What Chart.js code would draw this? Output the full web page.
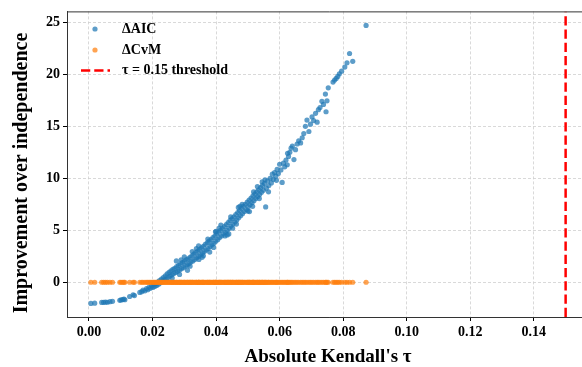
<!DOCTYPE html>
<html><head><meta charset="utf-8">
<script src="https://cdn.jsdelivr.net/npm/chart.js@4/dist/chart.umd.min.js"></script>
<style>html,body{margin:0;padding:0;background:#fff;overflow:hidden;width:582px;height:367px}canvas{display:block}#wrap{position:relative;width:582px;height:367px;overflow:hidden}</style>
</head><body>
<div id="wrap"><canvas id="c" width="600" height="367"></canvas></div>
<script>
// ---- data ----
const tau = [
0.0006,0.0018,0.0040,0.0046,0.0052,0.0058,0.0066,0.0074,0.0097,0.0101,
0.0106,0.0110,0.0113,0.0128,0.0139,0.0143,0.0160,0.0166,0.0170,0.0176,
0.0181,0.0185,0.0189,0.0193,0.0197,0.0201,0.0204,0.0207,0.0210,0.0213,
0.0216,0.0219,0.0222,0.0225,0.0228,0.0231,0.0234,0.0237,0.0240,0.0243,
0.0246,0.0249,0.0252,0.0255,0.0258,0.0261,0.0264,0.0267,0.0270,0.0273,
0.0276,0.0279,0.0282,0.0285,0.0288,0.0291,0.0294,0.0297,0.0300,0.0303,
0.0306,0.0309,0.0312,0.0315,0.0318,0.0321,0.0324,0.0327,0.0330,0.0333,
0.0336,0.0339,0.0342,0.0345,0.0348,0.0351,0.0354,0.0357,0.0360,0.0363,
0.0366,0.0369,0.0372,0.0375,0.0378,0.0381,0.0384,0.0387,0.0390,0.0393,
0.0396,0.0399,0.0402,0.0405,0.0408,0.0411,0.0414,0.0417,0.0420,0.0423,
0.0426,0.0429,0.0432,0.0435,0.0438,0.0441,0.0444,0.0447,0.0450,0.0453,
0.0456,0.0459,0.0462,0.0465,0.0468,0.0471,0.0474,0.0477,0.0480,0.0483,
0.0486,0.0489,0.0492,0.0495,0.0498,0.0501,0.0504,0.0507,0.0510,0.0513,
0.0516,0.0519,0.0522,0.0525,0.0528,0.0531,0.0534,0.0537,0.0540,0.0543,
0.0546,0.0549,0.0552,0.0556,0.0558,0.0562,0.0566,0.0570,0.0574,0.0577,
0.0580,0.0584,0.0588,0.0592,0.0596,0.0600,0.0604,0.0608,0.0612,0.0616,
0.0620,0.0624,0.0628,0.0632,0.0636,0.0640,0.0645,0.0650,0.0655,0.0660,
0.0666,0.0671,0.0676,0.0681,0.0686,0.0692,0.0697,0.0702,0.0707,0.0713,
0.0718,0.0722,0.0727,0.0733,0.0738,0.0744,0.0746,0.0749,0.0753,0.0768,
0.0773,0.0778,0.0783,0.0788,0.0795,0.0805,0.0812,0.0820,0.0830,0.0872,
0.0262,0.0290,0.0318,0.0338,0.0356,0.0374,0.0392,0.0410,0.0428,0.0446,
0.0464,0.0482,0.0500,0.0518,0.0536,0.0554,0.0300,0.0346,0.0398,0.0452,
0.0275,0.0310,0.0345,0.0380,0.0415,0.0440,0.0470,0.0505,0.0530,0.0565,
0.0285,0.0325,0.0360,0.0400,0.0435,0.0475,0.0515,0.0545,0.0590,0.0625
];
const dAIC = [
-2.03,-2.01,-1.94,-1.93,-1.91,-1.92,-1.87,-1.83,-1.74,-1.70,
-1.66,-1.62,-1.68,-1.37,-1.20,-1.28,-0.98,-0.90,-0.76,-0.82,
-0.60,-0.72,-0.48,-0.58,-0.36,-0.50,-0.22,-0.40,-0.12,-0.30,
0.02,-0.18,0.15,-0.05,0.30,0.05,0.45,0.20,0.62,0.30,
0.80,0.45,0.95,0.60,1.10,0.72,1.25,0.85,1.35,0.95,
1.50,1.05,1.62,1.18,1.75,1.30,1.90,1.40,2.00,1.55,
2.15,1.65,2.25,1.80,2.40,1.95,2.55,2.05,2.70,2.20,
2.85,2.35,3.00,2.50,3.15,2.65,3.30,2.80,3.45,2.95,
3.65,3.10,3.80,3.25,3.95,3.45,4.10,3.60,4.30,3.75,
4.45,3.95,4.65,4.10,4.80,4.30,5.00,4.45,5.15,4.65,
5.35,4.80,5.55,5.00,5.75,5.20,5.95,5.40,6.10,5.60,
6.30,5.80,6.50,6.00,6.70,6.20,6.90,6.40,7.10,6.60,
7.30,6.80,7.50,7.00,7.70,7.25,7.90,7.45,8.10,7.65,
8.30,7.85,8.50,8.05,8.70,8.25,8.90,8.45,9.10,8.65,
9.30,8.85,9.50,7.25,9.05,9.75,9.30,10.00,9.55,10.40,
9.90,10.55,10.20,10.85,10.45,11.35,10.80,9.60,11.45,11.10,
11.75,11.30,12.10,12.50,12.90,13.10,11.80,12.75,13.30,13.60,
13.40,13.90,14.30,15.00,15.60,14.50,15.20,15.90,15.55,16.25,
15.40,16.60,16.80,17.40,17.10,18.10,16.40,17.45,18.70,19.25,
19.45,19.60,19.80,20.05,20.30,20.70,21.10,22.00,21.25,24.70,
0.40,2.15,1.55,3.25,2.40,4.15,3.35,5.20,4.45,6.30,
5.60,7.50,6.85,8.70,8.05,9.85,2.45,2.20,4.85,5.20,
2.05,1.15,3.50,2.90,5.50,4.65,7.20,6.80,9.20,8.70,
0.75,2.95,2.55,4.90,4.55,7.30,7.30,9.65,9.80,12.40
];
const dCvM = [
0,0,0,0,0,0,0,0,0,0, 0,0,0,0,0,0,0,0,0,0,
0,0,0,0,0,0,0,0,0,0, 0,0,0,0,0,0,0,0,0,0,
0,0,0,0,0,0,0,0,0,0, 0,0,0,0,0,0,0,0,0,0,
0,0,0,0,0,0,0,0,0,0, 0,0,0,0,0,0,0,0,0,0,
0,0,0,0,0,0,0,0,0,0, 0,0,0,0,0,0,0,0,0,0,
0,0,0,0,0,0,0,0,0,0, 0,0,0,0,0,0,0,0,0,0,
0,0,0,0,0,0,0,0,0,0, 0,0,0,0,0,0,0,0,0,0,
0,0,0,0,0,0,0,0,0,0, 0,0,0,0,0,0,0,0,0,0,
0,0,0,0,0,0,0,0,0,0, 0,0,0,0,0,0,0,0,0,0,
0,0,0,0,0,0,0,0,0,0, 0,0,0,0,0,0,0,0,0,0,
0,0,0,0,0,0,0,0,0,0, 0,0,0,0,0,0,0,0,0,0,
0,0,0,0,0,0,0,0,0,0, 0,0,0,0,0,0,0,0,0,0
];
const threshold = 0.15;
const xTicks = [0.00,0.02,0.04,0.06,0.08,0.10,0.12,0.14];
const yTicks = [0,5,10,15,20,25];
const seriesNames = ['\u0394AIC','\u0394CvM','\u03c4 = 0.15 threshold'];
const xTitle = "Absolute Kendall's \u03c4";
const yTitle = 'Improvement over independence';

// ---- view ----
const X_MIN = -0.00692, X_MAX = 0.1583, Y_MIN = -3.34, Y_MAX = 26.05;
const FONT = "'Liberation Serif','Times New Roman',serif";
const BLUE = 'rgba(31,119,180,0.72)', ORANGE = 'rgba(255,127,14,0.72)', RED = '#ff0000';
const GRID = '#cfcfcf';
const RED_DASH = [9.25,4];

const aicPts = tau.map((t,i)=>({x:t, y:dAIC[i]}));
const cvmPts = tau.map((t,i)=>({x:t, y:dCvM[i]}));

const decor = {
  id:'decor',
  afterDraw(chart){
    const ctx = chart.ctx, a = chart.chartArea;
    ctx.save();
    // top spine
    ctx.strokeStyle = '#333'; ctx.lineWidth = 1;
    ctx.beginPath(); ctx.moveTo(a.left, a.top+0.5); ctx.lineTo(a.right, a.top+0.5); ctx.stroke();
    // legend
    ctx.fillStyle = BLUE; ctx.beginPath(); ctx.arc(95,29,2.6,0,Math.PI*2); ctx.fill();
    ctx.fillStyle = ORANGE; ctx.beginPath(); ctx.arc(95,50,2.6,0,Math.PI*2); ctx.fill();
    ctx.strokeStyle = RED; ctx.lineWidth = 2.5; ctx.setLineDash(RED_DASH);
    ctx.beginPath(); ctx.moveTo(81,70.5); ctx.lineTo(110,70.5); ctx.stroke();
    ctx.setLineDash([]);
    ctx.fillStyle = '#000'; ctx.font = "bold 14px " + FONT; ctx.textBaseline = 'middle'; ctx.textAlign = 'left';
    ctx.fillText(seriesNames[0],122,29);
    ctx.fillText(seriesNames[1],122,50);
    ctx.fillText(seriesNames[2],122,70.5);
    // axis titles
    ctx.font = "bold 19px " + FONT; ctx.textAlign = 'center';
    ctx.fillText(xTitle, 328, 357);
    ctx.font = "bold 20px " + FONT;
    ctx.translate(21.5, 173); ctx.rotate(-Math.PI/2);
    ctx.fillText(yTitle, 0, 0);
    ctx.restore();
  }
};

new Chart(document.getElementById('c'), {
  type:'scatter',
  data:{ datasets:[
    {label:seriesNames[0], data:aicPts, backgroundColor:BLUE, borderWidth:0, pointRadius:2.6, pointHoverRadius:2.6, order:3},
    {label:seriesNames[1], data:cvmPts, backgroundColor:ORANGE, borderWidth:0, pointRadius:2.6, pointHoverRadius:2.6, order:2},
    {label:seriesNames[2], data:[{x:threshold,y:Y_MIN},{x:threshold,y:Y_MAX}], showLine:true, borderColor:RED, borderWidth:2.5, borderDash:RED_DASH, pointRadius:0, order:1}
  ]},
  options:{
    responsive:false, animation:false, devicePixelRatio:1,
    layout:{padding:{top:9,left:0,right:8,bottom:0}},
    plugins:{legend:{display:false}, tooltip:{enabled:false}},
    scales:{
      x:{type:'linear', min:X_MIN, max:X_MAX,
         afterBuildTicks:s=>{s.ticks = xTicks.map(v=>({value:v}));},
         afterFit:s=>{s.height = 50;},
         ticks:{padding:3, color:'#000', font:{family:FONT, size:14, weight:'bold'}, callback:v=>Number(v).toFixed(2), maxRotation:0, autoSkip:false},
         grid:{color:GRID, lineWidth:0.8, tickColor:'#000', tickLength:4, tickWidth:1, tickBorderDash:[]},
         border:{display:true, color:'#333', width:1, dash:[3,2]}
      },
      y:{type:'linear', min:Y_MIN, max:Y_MAX,
         afterBuildTicks:s=>{s.ticks = yTicks.map(v=>({value:v}));},
         afterFit:s=>{s.width = 67;},
         ticks:{padding:3, color:'#000', font:{family:FONT, size:14, weight:'bold'}, callback:v=>String(v)},
         grid:{color:GRID, lineWidth:0.8, tickColor:'#000', tickLength:4, tickWidth:1, tickBorderDash:[]},
         border:{display:true, color:'#333', width:1, dash:[3,2]}
      }
    }
  },
  plugins:[decor]
});
</script>
</body></html>
